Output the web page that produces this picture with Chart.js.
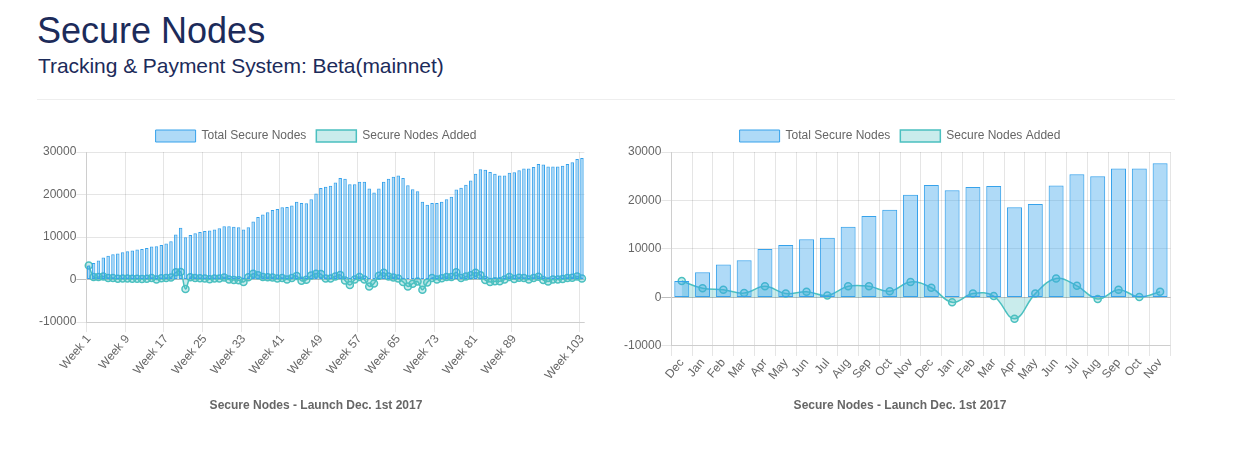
<!DOCTYPE html>
<html><head><meta charset="utf-8">
<script src="https://cdn.jsdelivr.net/npm/chart.js@4.4.1/dist/chart.umd.min.js"></script>
<style>
html,body{margin:0;padding:0;background:#fff}
body{width:1250px;height:455px;overflow:hidden;position:relative;font-family:"Liberation Sans",Arial,Helvetica,sans-serif;color:#1c2b5a}
#t1{position:absolute;left:37px;top:13px;margin:0;font-size:36px;line-height:36px;font-weight:400;white-space:nowrap}
#t2{position:absolute;left:38px;top:55px;margin:0;font-size:21px;line-height:21px;font-weight:400;white-space:nowrap;letter-spacing:-0.05px}
#hr{position:absolute;left:37px;top:99px;width:1138px;height:1px;background:#eee}
canvas{position:absolute}
#c1{left:39px;top:120px}
#c2{left:624px;top:120px}
</style>
</head><body>
<h1 id="t1">Secure Nodes</h1>
<h4 id="t2">Tracking &amp; Payment System: Beta(mainnet)</h4>
<div id="hr"></div>
<canvas id="c1" width="554" height="303"></canvas>
<canvas id="c2" width="552" height="303"></canvas>
<script>
const weekLabels = ['Week 1','Week 2','Week 3','Week 4','Week 5','Week 6','Week 7','Week 8','Week 9','Week 10',
'Week 11','Week 12','Week 13','Week 14','Week 15','Week 16','Week 17','Week 18','Week 19','Week 20',
'Week 21','Week 22','Week 23','Week 24','Week 25','Week 26','Week 27','Week 28','Week 29','Week 30',
'Week 31','Week 32','Week 33','Week 34','Week 35','Week 36','Week 37','Week 38','Week 39','Week 40',
'Week 41','Week 42','Week 43','Week 44','Week 45','Week 46','Week 47','Week 48','Week 49','Week 50',
'Week 51','Week 52','Week 53','Week 54','Week 55','Week 56','Week 57','Week 58','Week 59','Week 60',
'Week 61','Week 62','Week 63','Week 64','Week 65','Week 66','Week 67','Week 68','Week 69','Week 70',
'Week 71','Week 72','Week 73','Week 74','Week 75','Week 76','Week 77','Week 78','Week 79','Week 80',
'Week 81','Week 82','Week 83','Week 84','Week 85','Week 86','Week 87','Week 88','Week 89','Week 90',
'Week 91','Week 92','Week 93','Week 94','Week 95','Week 96','Week 97','Week 98','Week 99','Week 100',
'Week 101','Week 102','Week 103'];
const weekTickLabels = ['Week 1','Week 9','Week 17','Week 25','Week 33','Week 41','Week 49','Week 57','Week 65','Week 73','Week 81','Week 89','Week 103'];
const weeklyTotal = [3300,3900,4500,5200,5600,5950,6150,6400,6650,6850,
7050,7200,7400,7800,7850,8150,8500,9000,10600,12200,
9950,10500,10900,11200,11450,11550,11800,12050,12550,12550,
12450,12300,11750,12300,13650,14700,15300,15850,16350,16600,
17000,17050,17450,18300,18000,17950,18900,20250,21550,21800,
22050,22800,23900,23700,22400,22400,23000,23000,21400,20500,
21400,23000,23700,24200,24450,23900,22200,21250,20800,18300,
17600,18000,18000,18300,18900,19500,21200,21600,22300,23300,
24900,25950,25850,25300,24900,24500,24500,25100,25250,25700,
26100,26100,26500,27150,27050,26600,26600,26600,26750,27150,
27600,28350,28600];
const weeklyAdded = [3300,600,600,700,400,350,200,250,250,200,
200,150,200,400,50,300,350,500,1700,1800,
-2200,550,400,300,250,100,250,250,500,0,
-100,-150,-550,550,1350,1050,600,550,500,250,
400,50,400,850,-300,-50,950,1350,1300,250,
250,750,1100,-200,-1300,0,600,0,-1600,-900,
900,1600,700,500,250,-550,-1600,-950,-450,-2400,
-700,400,0,300,600,600,1700,400,700,1000,
1600,1050,-100,-550,-400,-400,0,600,150,450,
400,0,400,650,-100,-450,0,0,150,400,
450,750,250];
const monthLabels = ['Dec','Jan','Feb','Mar','Apr','May','Jun','Jul','Aug','Sep','Oct','Nov',
'Dec','Jan','Feb','Mar','Apr','May','Jun','Jul','Aug','Sep','Oct','Nov'];
const monthlyTotal = [3400,5200,6800,7700,10000,10800,12000,12300,14600,16800,18100,21200,
23200,22100,22800,23000,18600,19300,23100,25400,25000,26600,26600,27700];
const monthlyAdded = [3400,1900,1600,900,2300,800,1200,400,2300,2300,1300,3200,
2000,-1000,800,300,-4400,800,3900,2400,-300,1600,100,1200];
const yTicks = {min:-10000, max:30000, step:10000};
const titleText = 'Secure Nodes - Launch Dec. 1st 2017';

Chart.defaults.font.family = "'Helvetica Neue','Helvetica','Arial',sans-serif";
Chart.defaults.font.size = 12;
Chart.defaults.color = '#666';

const BLUE = 'rgb(54,162,235)', BLUE_F = 'rgba(54,162,235,0.4)';
const TEAL = 'rgb(75,192,192)', TEAL_F = 'rgba(75,192,192,0.3)';
const GRID = 'rgba(0,0,0,0.1)';

function makeChart(id, labels, total, added, weekly) {
  const xScale = {
    offset: true,
    grid: { offset: true, color: GRID, tickLength: 10 },
    border: { color: GRID },
    ticks: { color: '#666', maxRotation: 50, minRotation: 50, padding: 0, autoSkip: false }
  };
  if (weekly) {
    xScale.ticks.callback = function(v, i) { const l = labels[i]; return weekTickLabels.includes(l) ? l : ''; };
    xScale.grid.color = ctx => (ctx.index >= labels.length || weekTickLabels.includes(labels[ctx.index])) ? GRID : 'rgba(0,0,0,0)';
  }
  return new Chart(document.getElementById(id), {
    type: 'bar',
    data: {
      labels: labels,
      datasets: [
        { type: 'bar', label: 'Total Secure Nodes', data: total, backgroundColor: BLUE_F, borderColor: BLUE, borderWidth: 1, borderSkipped: false },
        { type: 'line', label: 'Secure Nodes Added', data: added, backgroundColor: TEAL_F, borderColor: TEAL, borderWidth: 1.5,
          fill: 'origin', tension: 0.4, pointRadius: 3.5, pointBorderWidth: 1.5, pointBackgroundColor: TEAL_F, pointBorderColor: TEAL }
      ]
    },
    options: {
      responsive: false, animation: false, devicePixelRatio: 1,
      plugins: {
        legend: { position: 'top', labels: { boxWidth: 40, boxHeight: 12, color: '#666', padding: 10 } },
        title: { display: true, text: titleText, position: 'bottom', color: '#666', font: { size: 12, weight: 'bold' }, padding: { top: 16, bottom: 10 } },
        tooltip: { enabled: false }
      },
      scales: {
        x: xScale,
        y: {
          min: yTicks.min, max: yTicks.max,
          grid: { color: ctx => ctx.tick && ctx.tick.value === 0 ? 'rgba(0,0,0,0.25)' : GRID, tickLength: 10 },
          border: { color: GRID },
          ticks: { stepSize: yTicks.step, color: '#666', padding: 0, callback: v => String(v) }
        }
      }
    }
  });
}
makeChart('c1', weekLabels, weeklyTotal, weeklyAdded, true);
makeChart('c2', monthLabels, monthlyTotal, monthlyAdded, false);
</script>
</body></html>
